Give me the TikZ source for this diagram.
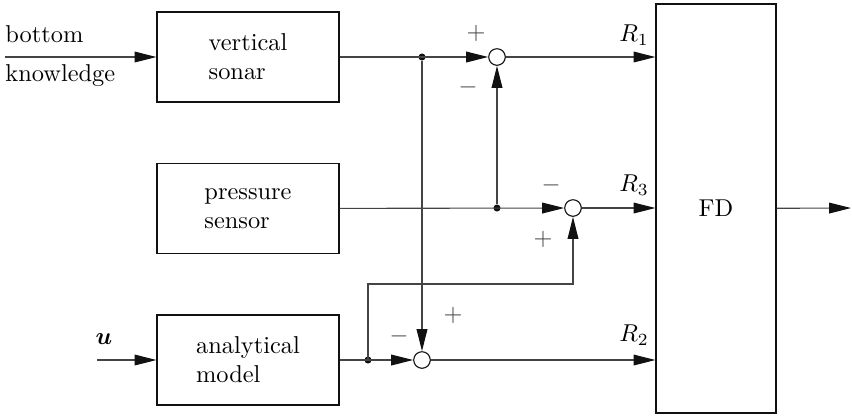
\documentclass[tikz,border=0pt]{standalone}
\usepackage{bm}
\usetikzlibrary{arrows.meta}
\newcommand{\Unit}{0.41pt}
\newcommand{\Wire}{0.45pt}
\definecolor{ink}{HTML}{111111}
\definecolor{wire}{HTML}{444444}

\tikzset{
  block/.style={draw=ink,line width=\Wire,minimum width=74.6pt,minimum height=36.9pt,
    align=left,inner sep=2pt},
  summer/.style={circle,draw=ink,fill=white,line width=\Wire,minimum size=6.8pt,inner sep=0pt},
  dot/.style={circle,fill=ink,minimum size=2.9pt,inner sep=0pt},
  arr/.style={draw=wire,line width=\Wire,-{Triangle[length=9pt,width=4.4pt,color=ink]}},
  sign/.style={inner sep=0pt,text=wire}
}

\begin{document}
\begin{tikzpicture}[x=\Unit,y=-\Unit]
  \useasboundingbox (0,0) rectangle (852,415);

  % ---- the three blocks on the left and FD on the right -------------------
  \node[block] (sonar) at (248,57) {vertical\\sonar};
  \node[block] (pres) at (248,208.5) {pressure\\sensor};
  \node[block] (model) at (248,360) {analytical\\model};
  \node[block,minimum width=49.2pt,minimum height=167.7pt,align=center] (fd) at (716,208.5) {FD};

  % ---- the three comparators ----------------------------------------------
  \node[summer] (sum1) at (497,57) {};
  \node[summer] (sum2) at (573,208) {};
  \node[summer] (sum3) at (422,360) {};

  % ---- branch points ------------------------------------------------------
  \node[dot] (j1) at (422,57) {};
  \node[dot] (j2) at (497,208) {};
  \node[dot] (j3) at (368,360) {};
  \coordinate (loop) at (368,284);

  % ---- inputs -------------------------------------------------------------
  \coordinate (kin) at (5,57);
  \coordinate (uin) at (97,360);
  \coordinate (out) at (851,208);
  \node[anchor=base west,inner sep=0pt] (bottom) at (5,42) {bottom};
  \node[anchor=base west,inner sep=0pt] (know) at (5,81) {knowledge};
  \node (ulbl) at (104,339) {$\bm{u}$};
  \draw[arr] (kin) -- (sonar);
  \draw[arr] (uin) -- (model);

  % ---- the wiring ---------------------------------------------------------
  \draw[arr] (sonar) -- (sum1);
  \draw[arr] (j1) -- (sum3);
  \draw[arr] (pres) -- (sum2);
  \draw[arr] (j2) -- (sum1);
  \draw[arr] (model) -- (sum3);
  \draw[arr] (j3.center) -- (loop) -| (sum2);
  \draw[arr] (sum1) -- (sum1 -| fd.west);
  \draw[arr] (sum2) -- (sum2 -| fd.west);
  \draw[arr] (sum3) -- (sum3 -| fd.west);
  \draw[arr] (fd) -- (out);

  % ---- signs and residuals ------------------------------------------------
  \node[sign] (p1) at (476,33) {$+$};
  \node[sign] (m1) at (468,87) {$-$};
  \node[sign] (m2) at (551,185) {$-$};
  \node[sign] (p2) at (543,239) {$+$};
  \node[sign] (m3) at (399,336) {$-$};
  \node[sign] (p3) at (453,315) {$+$};
  \node (r1) at (634,35) {$R_1$};
  \node (r3) at (634,185) {$R_3$};
  \node (r2) at (634,335) {$R_2$};

\end{tikzpicture}
\end{document}
